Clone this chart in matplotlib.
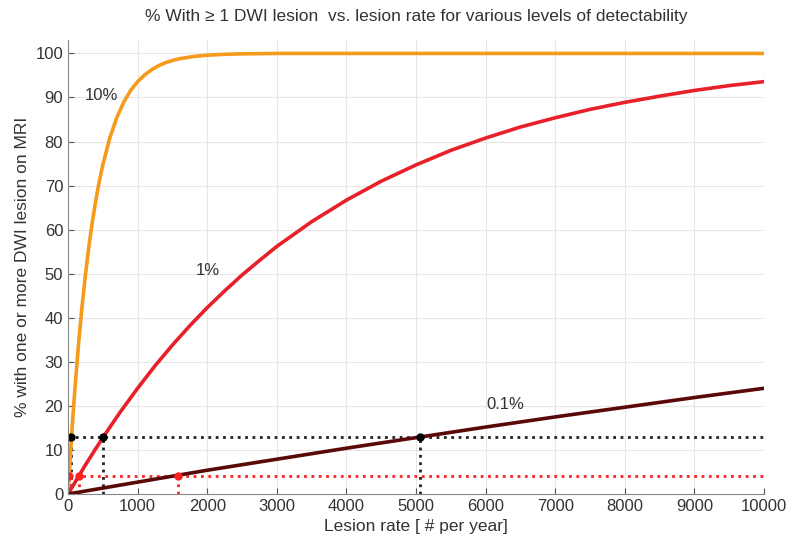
import numpy as np
import matplotlib
matplotlib.use('Agg')
import matplotlib.pyplot as plt

plt.rcParams['font.family'] = ['Liberation Sans', 'DejaVu Sans']

# curves (% with >= 1 lesion vs lesion rate)
x_10 = [0, 25, 50, 75, 100, 150, 200, 250, 300, 350, 400, 450, 500, 600, 700, 800, 900, 1000,
        1100, 1200, 1300, 1400, 1500, 1600, 1800, 2000, 2250, 2500, 3000, 10000]
y_10 = [0, 6.6, 12.8, 18.6, 24.0, 33.8, 42.3, 49.7, 56.2, 61.8, 66.7, 71.0, 74.7, 80.8,
        85.4, 88.9, 91.6, 93.6, 95.1, 96.3, 97.2, 97.9, 98.4, 98.8, 99.3, 99.6, 99.8,
        99.9, 100, 100]

x_1 = [0, 250, 500, 750, 1000, 1250, 1500, 1750, 2000, 2250, 2500, 2750, 3000, 3500,
       4000, 4500, 5000, 5500, 6000, 6500, 7000, 7500, 8000, 8500, 9000, 9500, 10000]
y_1 = [0, 6.6, 12.8, 18.6, 24.0, 29.1, 33.8, 38.2, 42.3, 46.1, 49.7, 53.0, 56.2, 61.8,
       66.7, 71.0, 74.7, 78.0, 80.8, 83.3, 85.4, 87.3, 88.9, 90.3, 91.6, 92.7, 93.6]

x_01 = [0, 1000, 2000, 3000, 4000, 5000, 6000, 7000, 8000, 9000, 10000]
y_01 = [0, 2.7, 5.4, 7.9, 10.4, 12.8, 15.2, 17.5, 19.7, 21.9, 24.0]

# marked crossings
level_black = 13
x_black = [50, 506, 5064]
level_red = 4.2
x_red = [16, 165, 1580]

fig = plt.figure(figsize=(8, 5.51), dpi=100)
ax = fig.add_axes([0.085, 0.1034, 0.87, 0.8236])

ax.grid(True, color='#e6e6e6', lw=0.8)
ax.set_axisbelow(True)

# reference lines
ax.plot([0, 10000], [level_black, level_black], ':', color='#222222', lw=2)
ax.plot([0, 10000], [level_red, level_red], ':', color='#ff2020', lw=2)
for xv in x_black:
    ax.plot([xv, xv], [0, level_black], ':', color='#222222', lw=2)
for xv in x_red:
    ax.plot([xv, xv], [0, level_red], ':', color='#ff2020', lw=2)

# curves
ax.plot(x_10, y_10, color='#f59a1b', lw=2.6)
ax.plot(x_1, y_1, color='#e8202a', lw=2.6)
ax.plot(x_01, y_01, color='#5a0808', lw=2.6)

ax.plot(x_black, [level_black] * 3, 'o', color='black', ms=5)
ax.plot(x_red, [level_red] * 3, 'o', color='#ff2020', ms=5)

ax.text(240, 90.5, '10%', fontsize=12, color='#333333', va='center')
ax.text(2010, 50.8, '1%', fontsize=12, color='#333333', va='center', ha='center')
ax.text(6290, 20.3, '0.1%', fontsize=12, color='#333333', va='center', ha='center')

ax.set_xlim(0, 10000)
ax.set_ylim(0, 103)
ax.set_xticks(range(0, 10001, 1000))
ax.set_yticks(range(0, 101, 10))
ax.tick_params(direction='in', colors='#555555', labelcolor='#333333', labelsize=12, length=4)
for s in ['top', 'right']:
    ax.spines[s].set_visible(False)
for s in ['left', 'bottom']:
    ax.spines[s].set_color('#888888')

ax.set_xlabel('Lesion rate [ # per year]', fontsize=12.5, color='#333333', labelpad=4)
ax.set_ylabel('% with one or more DWI lesion on MRI', fontsize=12.5, color='#333333', labelpad=4)
ax.set_title('% With \u2265 1 DWI lesion  vs. lesion rate for various levels of detectability',
             fontsize=12.5, color='#333333', pad=14)

fig.savefig('out.png', dpi=100)
